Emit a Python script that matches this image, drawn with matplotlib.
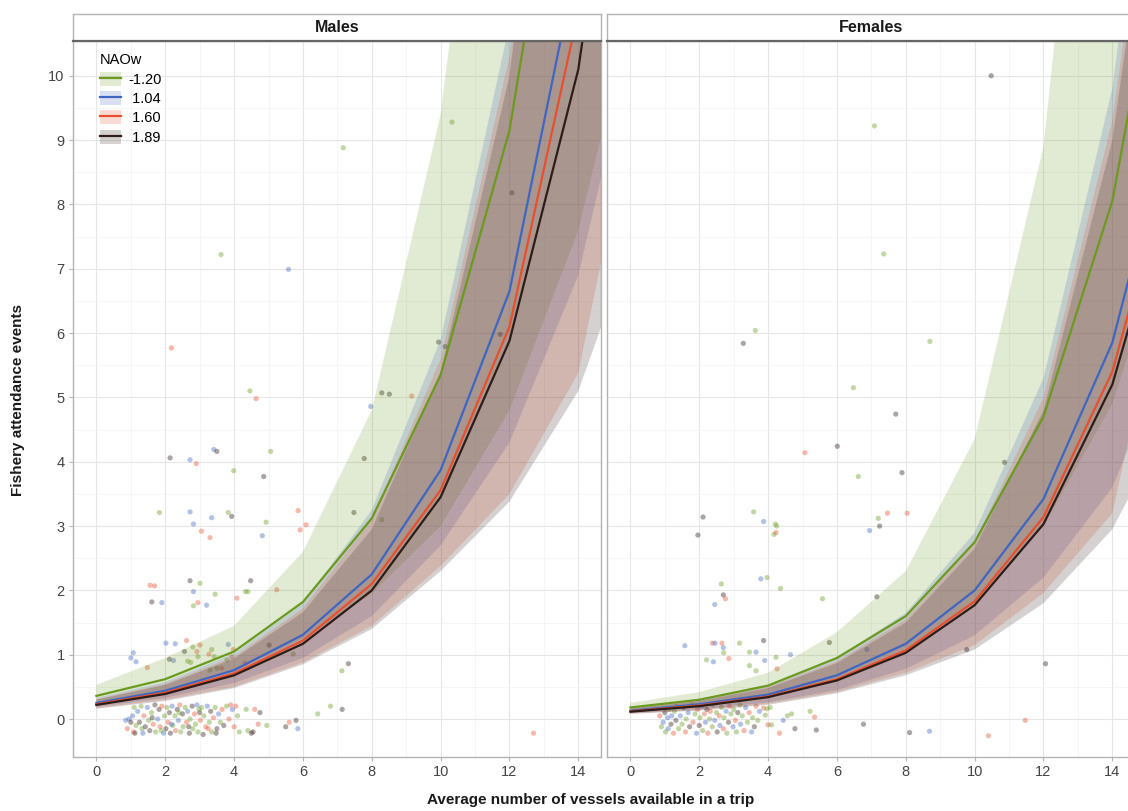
import matplotlib.pyplot as plt
import numpy as np
from matplotlib.patches import Patch
from matplotlib.lines import Line2D

plt.rcParams['font.family'] = ['Liberation Sans', 'DejaVu Sans']

# NAOw levels and colours
nao_levels = ['-1.20', ' 1.04', ' 1.60', ' 1.89']
nao_colors = ['#6b9a1f', '#3f66c2', '#e8502d', '#2e1c18']

# prediction grid (vessels)
x_pred = [0, 2, 4, 6, 8, 10, 12, 14, 16]

# Males: fitted lines and ribbon bounds, one row per NAOw level
males_fit = [
    [0.36, 0.62, 1.05, 1.82, 3.12, 5.35, 9.15, 15.7, 26.9],
    [0.25, 0.44, 0.76, 1.31, 2.25, 3.87, 6.65, 11.9, 20.5],
    [0.23, 0.41, 0.71, 1.22, 2.10, 3.56, 6.10, 11.0, 19.0],
    [0.22, 0.39, 0.68, 1.17, 2.00, 3.45, 5.88, 10.1, 17.5],
]
males_hi = [
    [0.53, 0.95, 1.45, 2.60, 4.80, 9.40, 18.0, 34.0, 60.0],
    [0.33, 0.58, 1.02, 1.80, 3.25, 5.90, 10.8, 20.0, 37.0],
    [0.31, 0.55, 0.97, 1.72, 3.10, 5.60, 10.3, 19.0, 35.0],
    [0.30, 0.53, 0.94, 1.66, 2.95, 5.40, 10.0, 18.5, 34.0],
]
males_lo = [
    [0.27, 0.45, 0.75, 1.25, 1.95, 3.00, 4.80, 7.60, 12.0],
    [0.19, 0.33, 0.56, 0.95, 1.60, 2.70, 4.30, 6.90, 11.5],
    [0.17, 0.30, 0.50, 0.88, 1.45, 2.38, 3.50, 5.38, 10.6],
    [0.16, 0.28, 0.48, 0.85, 1.40, 2.30, 3.38, 5.10, 8.10],
]

# Females
females_fit = [
    [0.18, 0.30, 0.52, 0.95, 1.60, 2.75, 4.70, 8.05, 13.9],
    [0.13, 0.23, 0.38, 0.68, 1.17, 2.00, 3.42, 5.85, 10.0],
    [0.12, 0.21, 0.35, 0.62, 1.07, 1.83, 3.14, 5.40, 9.30],
    [0.115, 0.20, 0.34, 0.60, 1.03, 1.77, 3.03, 5.20, 8.90],
]
females_hi = [
    [0.25, 0.42, 0.72, 1.35, 2.30, 4.35, 8.90, 19.0, 40.0],
    [0.18, 0.31, 0.53, 0.95, 1.65, 2.90, 5.30, 9.80, 18.0],
    [0.17, 0.29, 0.50, 0.90, 1.55, 2.75, 5.00, 9.30, 17.0],
    [0.165, 0.28, 0.48, 0.87, 1.50, 2.65, 4.80, 9.00, 16.5],
]
females_lo = [
    [0.13, 0.21, 0.36, 0.64, 1.10, 1.80, 3.00, 4.90, 8.20],
    [0.09, 0.15, 0.26, 0.45, 0.78, 1.30, 2.20, 3.60, 6.20],
    [0.085, 0.14, 0.24, 0.42, 0.72, 1.15, 1.96, 3.20, 8.10],
    [0.08, 0.13, 0.22, 0.40, 0.68, 1.08, 1.80, 2.95, 5.00],
]

# observed (jittered) events: (vessels, events, NAOw index)
males_obs = [
    (10.33, 9.28, 0), (7.17, 8.88, 0), (12.07, 8.18, 3), (3.62, 7.22, 0), (5.58, 6.99, 1),
    (2.18, 5.77, 2), (4.46, 5.10, 0), (4.64, 4.98, 2), (9.94, 5.86, 3), (10.13, 5.79, 3),
    (11.73, 5.98, 3), (8.29, 5.07, 3), (8.51, 5.05, 3), (9.16, 5.02, 2), (7.97, 4.86, 1),
    (7.78, 4.05, 3), (7.48, 3.21, 3), (8.29, 3.10, 0), (7.32, 0.86, 3), (7.13, 0.75, 0),
    (2.14, 4.06, 3), (2.72, 4.03, 1), (2.90, 3.97, 2), (3.41, 4.19, 1), (3.50, 4.16, 3),
    (5.06, 4.16, 0), (3.99, 3.86, 0), (4.86, 3.77, 3), (1.83, 3.21, 0), (2.72, 3.22, 1),
    (2.82, 3.03, 1), (3.35, 3.13, 1), (3.83, 3.21, 0), (3.93, 3.15, 3), (4.93, 3.06, 0),
    (5.86, 3.24, 2), (6.09, 3.02, 2), (5.92, 2.94, 2), (3.05, 2.92, 2), (3.30, 2.82, 2),
    (4.82, 2.85, 1), (1.56, 2.08, 2), (1.69, 2.07, 2), (1.61, 1.82, 3), (1.90, 1.81, 1),
    (2.72, 2.15, 3), (3.01, 2.11, 0), (2.82, 1.98, 1), (3.45, 1.94, 0), (2.95, 1.81, 2),
    (2.82, 1.76, 0), (3.20, 1.77, 1), (4.48, 2.15, 3), (4.33, 1.98, 0), (4.40, 1.98, 0),
    (4.08, 1.88, 2), (5.24, 2.01, 2), (1.07, 1.03, 1), (1.00, 0.95, 1), (1.15, 0.89, 1),
    (1.48, 0.80, 2), (2.02, 1.18, 1), (2.29, 1.17, 1), (2.12, 0.93, 3), (2.24, 0.91, 1),
    (2.62, 1.22, 2), (2.56, 1.05, 3), (2.80, 1.12, 0), (2.92, 1.05, 2), (3.01, 1.15, 2),
    (2.95, 0.97, 0), (2.65, 0.90, 0), (2.74, 0.88, 0), (3.27, 1.01, 2), (3.35, 1.08, 0),
    (3.42, 0.97, 0), (3.30, 0.76, 0), (3.50, 0.79, 0), (3.64, 0.79, 2), (3.83, 1.16, 1),
    (3.98, 1.08, 2), (3.93, 0.97, 2), (3.79, 0.92, 0), (5.02, 1.15, 3), (5.72, 1.01, 0),
    (4.32, 0.87, 2), (12.70, -0.22, 2), (6.43, 0.08, 0), (6.80, 0.20, 0), (7.14, 0.15, 3),
    (0.85, -0.02, 1), (0.90, -0.15, 2), (0.95, 0.00, 1), (1.00, -0.05, 3), (1.05, 0.05, 1),
    (1.08, -0.20, 2), (1.12, -0.22, 3), (1.15, -0.10, 0), (1.20, 0.12, 1), (1.25, -0.05, 3),
    (1.30, 0.20, 0), (1.32, -0.15, 0), (1.38, 0.05, 2), (1.42, -0.12, 3), (1.48, 0.18, 1),
    (1.52, -0.02, 0), (1.55, -0.18, 3), (1.60, 0.10, 0), (1.65, -0.08, 2), (1.70, 0.22, 3),
    (1.72, -0.20, 0), (1.78, 0.00, 1), (1.82, 0.15, 3), (1.85, -0.12, 2), (1.90, 0.20, 2),
    (1.95, -0.22, 1), (1.98, 0.05, 0), (2.02, -0.15, 3), (2.05, 0.18, 0), (2.08, -0.05, 2),
    (2.12, 0.10, 3), (2.15, -0.22, 3), (2.20, 0.20, 1), (2.22, -0.10, 0), (2.28, 0.05, 0),
    (2.30, -0.18, 2), (2.35, 0.15, 3), (2.38, -0.02, 1), (2.42, 0.22, 2), (2.45, -0.20, 0),
    (2.50, 0.08, 3), (2.52, -0.12, 0), (2.58, 0.18, 0), (2.62, -0.05, 2), (2.65, 0.12, 1),
    (2.70, -0.22, 3), (2.72, 0.00, 0), (2.78, 0.20, 3), (2.80, -0.15, 0), (2.85, 0.08, 2),
    (2.88, -0.08, 0), (2.92, 0.22, 1), (2.95, -0.20, 0), (3.00, 0.10, 3), (3.02, -0.02, 2),
    (3.05, 0.18, 0), (3.10, -0.24, 3), (3.12, 0.05, 0), (3.18, -0.12, 2), (3.22, 0.20, 1),
    (3.28, -0.05, 0), (3.32, 0.12, 3), (3.35, -0.20, 0), (3.40, 0.02, 2), (3.45, 0.18, 0),
    (3.50, -0.15, 3), (3.55, 0.08, 1), (3.60, -0.05, 0), (3.65, 0.15, 2), (3.70, -0.10, 3),
    (3.78, 0.20, 0), (3.85, 0.00, 2), (3.90, 0.22, 2), (3.95, 0.15, 1), (4.00, -0.12, 2),
    (4.05, 0.20, 2), (4.10, 0.05, 0), (4.15, -0.20, 0), (4.35, 0.15, 0), (4.40, -0.18, 0),
    (4.50, -0.22, 3), (4.55, -0.20, 3), (4.60, 0.15, 2), (4.75, 0.10, 3), (4.70, -0.08, 2),
    (4.95, -0.10, 0), (5.50, -0.12, 3), (5.60, -0.05, 2), (5.80, -0.02, 3), (5.85, -0.15, 1),
    (1.10, 0.18, 0), (1.35, -0.22, 1), (1.62, 0.02, 3), (1.88, -0.18, 0), (2.18, -0.08, 1),
    (2.40, 0.10, 0), (2.68, -0.12, 3), (2.98, 0.15, 0), (3.25, -0.15, 2), (3.48, -0.22, 3),
]

females_obs = [
    (10.48, 10.0, 3), (7.09, 9.22, 0), (7.36, 7.23, 0), (3.63, 6.04, 0), (3.28, 5.84, 3),
    (8.70, 5.87, 0), (6.48, 5.15, 0), (7.71, 4.74, 3), (6.01, 4.24, 3), (5.07, 4.14, 2),
    (6.62, 3.77, 0), (7.89, 3.83, 3), (10.87, 3.99, 3), (3.58, 3.22, 0), (2.11, 3.14, 3),
    (3.87, 3.07, 1), (4.21, 3.03, 0), (4.25, 3.00, 0), (4.17, 2.87, 0), (4.23, 2.90, 2),
    (1.96, 2.86, 3), (7.20, 3.12, 0), (7.47, 3.20, 2), (8.04, 3.20, 2), (7.24, 3.00, 3),
    (6.95, 2.93, 1), (3.79, 2.18, 1), (3.97, 2.20, 0), (4.36, 2.03, 0), (2.64, 2.10, 0),
    (2.70, 1.93, 3), (2.76, 1.87, 2), (2.45, 1.78, 1), (5.58, 1.87, 0), (7.16, 1.90, 3),
    (1.58, 1.14, 1), (2.38, 1.18, 2), (2.46, 1.18, 1), (2.66, 1.18, 2), (2.70, 1.11, 1),
    (2.71, 1.03, 0), (3.17, 1.18, 0), (2.86, 0.94, 2), (2.21, 0.92, 0), (2.41, 0.89, 1),
    (3.46, 1.04, 0), (3.65, 1.04, 1), (3.87, 1.22, 3), (3.90, 0.91, 1), (3.46, 0.83, 0),
    (3.65, 0.75, 0), (4.23, 0.96, 0), (4.26, 0.78, 2), (4.65, 1.00, 1), (5.78, 1.19, 3),
    (6.87, 1.08, 1), (9.77, 1.08, 3), (12.06, 0.86, 3), (11.47, -0.02, 2), (8.11, -0.21, 3),
    (8.69, -0.19, 1), (10.40, -0.26, 2), (6.77, -0.08, 3),
    (0.85, 0.05, 2), (0.90, -0.12, 0), (0.95, -0.05, 1), (1.00, 0.10, 3), (1.02, -0.20, 0),
    (1.08, 0.02, 1), (1.10, -0.15, 1), (1.12, 0.15, 0), (1.18, -0.08, 3), (1.20, 0.05, 1),
    (1.25, -0.22, 2), (1.28, 0.12, 0), (1.32, -0.02, 3), (1.35, 0.20, 2), (1.40, -0.15, 0),
    (1.45, 0.05, 1), (1.50, -0.08, 0), (1.55, 0.18, 3), (1.60, -0.20, 2), (1.62, 0.00, 0),
    (1.68, 0.10, 1), (1.72, -0.12, 3), (1.78, 0.22, 0), (1.82, -0.05, 2), (1.88, 0.08, 0),
    (1.92, -0.22, 1), (1.95, 0.15, 2), (2.00, -0.10, 3), (2.02, 0.02, 0), (2.08, 0.20, 1),
    (2.10, -0.18, 0), (2.15, 0.08, 2), (2.18, -0.05, 1), (2.22, 0.15, 3), (2.25, -0.22, 2),
    (2.30, 0.00, 0), (2.32, 0.12, 2), (2.38, -0.12, 0), (2.40, 0.22, 0), (2.45, -0.02, 1),
    (2.50, 0.10, 0), (2.52, -0.20, 3), (2.58, 0.05, 2), (2.60, -0.10, 1), (2.65, 0.18, 0),
    (2.70, -0.15, 2), (2.72, 0.02, 0), (2.78, 0.12, 1), (2.80, -0.22, 0), (2.85, -0.05, 3),
    (2.88, 0.20, 2), (2.92, 0.08, 0), (2.98, -0.12, 1), (3.00, 0.15, 0), (3.05, -0.02, 2),
    (3.08, -0.20, 0), (3.12, 0.10, 3), (3.18, 0.22, 0), (3.20, -0.08, 1), (3.25, 0.05, 0),
    (3.30, -0.18, 2), (3.35, 0.18, 1), (3.40, -0.05, 0), (3.45, 0.10, 2), (3.52, -0.20, 1),
    (3.55, 0.02, 0), (3.60, -0.12, 3), (3.65, 0.20, 2), (3.70, -0.02, 0), (3.75, 0.12, 1),
    (3.87, 0.17, 2), (3.97, 0.16, 0), (4.06, 0.18, 0), (3.92, 0.06, 0), (4.00, -0.09, 2),
    (4.10, -0.09, 0), (4.33, -0.22, 2), (4.44, -0.02, 1), (4.56, 0.05, 0), (4.68, 0.08, 0),
    (4.78, -0.15, 3), (5.22, 0.12, 0), (5.35, 0.03, 2), (5.40, -0.17, 3),
]

panels = [
    ('Males', males_fit, males_lo, males_hi, males_obs),
    ('Females', females_fit, females_lo, females_hi, females_obs),
]

W, H = 1128, 811
fig = plt.figure(figsize=(W / 100, H / 100), dpi=100)


def px_axes(left, top, right, bottom):
    return fig.add_axes([left / W, 1 - bottom / H, (right - left) / W, (bottom - top) / H])


panel_w = 527.7
lefts = [73, 607]
border = '#b3b3b3'

for k, (name, fit, lo, hi, obs) in enumerate(panels):
    ax = px_axes(lefts[k], 41, lefts[k] + panel_w, 757)
    obs = np.array(obs)
    pt_cols = [nao_colors[int(g)] for g in obs[:, 2]]
    ax.scatter(obs[:, 0], obs[:, 1], s=14, c=pt_cols, alpha=0.4, linewidths=0, zorder=2)
    for g in range(4):
        ax.fill_between(x_pred, lo[g], hi[g], color=nao_colors[g], alpha=0.2, lw=0, zorder=3)
    for g in range(4):
        ax.plot(x_pred, fit[g], color=nao_colors[g], lw=1.6, zorder=4)

    ax.set_xlim(-0.68, 14.65)
    ax.set_ylim(-0.59, 10.54)
    ax.set_xticks(range(0, 15, 2))
    ax.set_xticks(range(1, 15, 2), minor=True)
    ax.set_yticks(range(0, 11))
    ax.set_yticks(np.arange(0.5, 10.5, 1), minor=True)
    ax.set_axisbelow(True)
    ax.grid(which='major', color='#e6e6e6', lw=0.8)
    ax.grid(which='minor', color='#f2f2f2', lw=0.5)
    for s in ax.spines.values():
        s.set_color(border)
        s.set_linewidth(1.0)
    ax.tick_params(which='major', color=border, length=3, labelsize=10.5,
                   labelcolor='#444444', pad=3)
    ax.tick_params(which='minor', length=0)
    if k == 1:
        ax.tick_params(axis='y', which='major', length=0, labelleft=False)

    # facet strip
    st = px_axes(lefts[k], 14, lefts[k] + panel_w, 41)
    st.set_xticks([])
    st.set_yticks([])
    for side in ['top', 'left', 'right']:
        st.spines[side].set_color(border)
        st.spines[side].set_linewidth(1.0)
    st.spines['bottom'].set_color('#666666')
    st.spines['bottom'].set_linewidth(1.6)
    st.text(0.5, 0.5, name, ha='center', va='center', fontsize=11.5,
            fontweight='bold', color='#1a1a1a', transform=st.transAxes)

    if k == 0:
        handles = [(Patch(facecolor=c, alpha=0.2, lw=0), Line2D([], [], color=c, lw=1.6))
                   for c in nao_colors]
        leg = ax.legend(handles, nao_levels, title='NAOw', loc='upper left',
                        bbox_to_anchor=(0.035, 0.995), frameon=False, fontsize=10.5,
                        title_fontsize=10.5, handlelength=1.4, handleheight=1.1,
                        labelspacing=0.3, handletextpad=0.5, borderaxespad=0.2)
        leg._legend_box.align = 'left'
        leg.set_zorder(6)

fig.text(18 / W, 1 - 400 / H, 'Fishery attendance events', rotation=90, ha='center',
         va='center', fontsize=11, fontweight='bold', color='#1a1a1a')
fig.text(591 / W, 1 - 800 / H, 'Average number of vessels available in a trip', ha='center',
         va='center', fontsize=11, fontweight='bold', color='#1a1a1a')

fig.savefig('out.png', dpi=100)
